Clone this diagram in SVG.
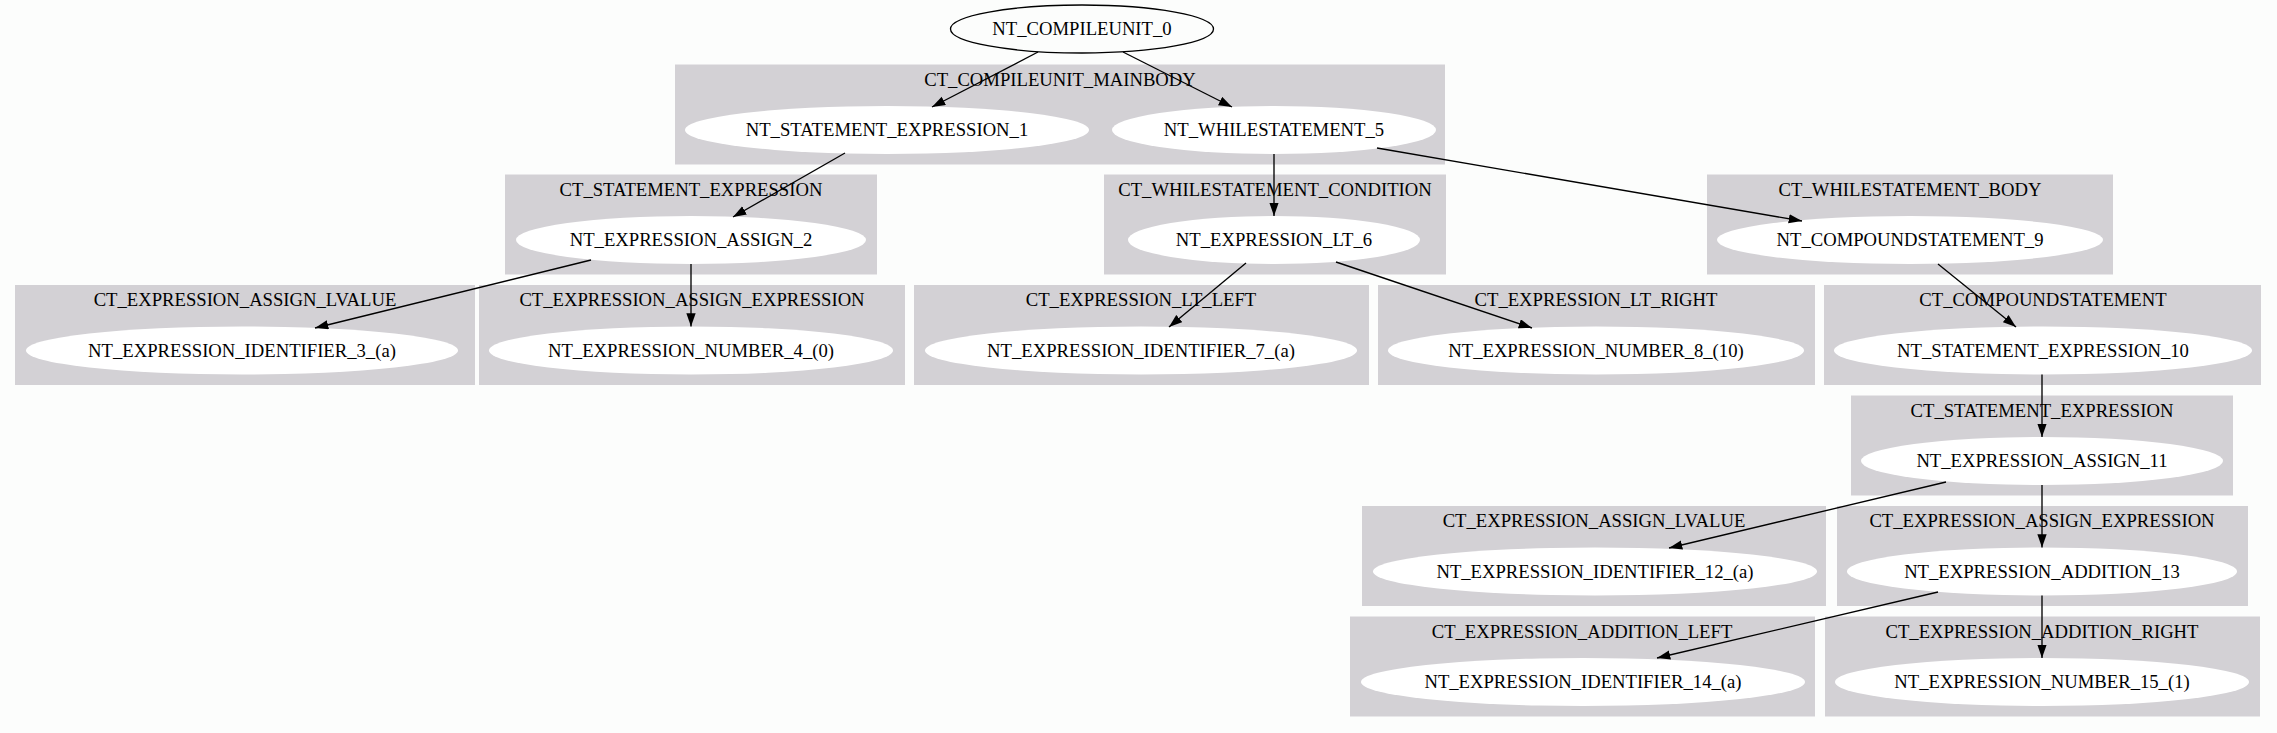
<svg xmlns="http://www.w3.org/2000/svg" width="2277" height="733" viewBox="0 0 2277 733">
<defs>
<marker id="arr" markerUnits="userSpaceOnUse" markerWidth="14" markerHeight="10" refX="13.3" refY="4.67" orient="auto">
<path d="M0,0 L13.3,4.67 L0,9.33 Z" fill="#000"/>
</marker>
</defs>
<style>
text{font-family:"Liberation Serif","Times New Roman",serif;font-size:18.67px;fill:#000;text-anchor:middle}
.cl{fill:#d3d1d5;stroke:none}
.nd{fill:#ffffff;stroke:none}
.root{fill:none;stroke:#000;stroke-width:1.33}
.e{stroke:#000;stroke-width:1.33;fill:none;marker-end:url(#arr)}
</style>
<rect width="2277" height="733" fill="#fcfdfc"/>
<g id="clusters">
<g id="c_mainbody"><rect class="cl" x="675" y="64.5" width="770" height="100"/><text x="1060" y="85.5">CT_COMPILEUNIT_MAINBODY</text></g>
<g id="c_stmt_expr_1"><rect class="cl" x="505" y="174.5" width="372" height="100"/><text x="691" y="195.5">CT_STATEMENT_EXPRESSION</text></g>
<g id="c_while_cond"><rect class="cl" x="1104" y="174.5" width="342" height="100"/><text x="1275" y="195.5">CT_WHILESTATEMENT_CONDITION</text></g>
<g id="c_while_body"><rect class="cl" x="1707" y="174.5" width="406" height="100"/><text x="1910" y="195.5">CT_WHILESTATEMENT_BODY</text></g>
<g id="c_assign_lvalue_1"><rect class="cl" x="15" y="285" width="460" height="100"/><text x="245" y="306">CT_EXPRESSION_ASSIGN_LVALUE</text></g>
<g id="c_assign_expr_1"><rect class="cl" x="479" y="285" width="426" height="100"/><text x="692" y="306">CT_EXPRESSION_ASSIGN_EXPRESSION</text></g>
<g id="c_lt_left"><rect class="cl" x="914" y="285" width="455" height="100"/><text x="1141" y="306">CT_EXPRESSION_LT_LEFT</text></g>
<g id="c_lt_right"><rect class="cl" x="1378" y="285" width="437" height="100"/><text x="1596" y="306">CT_EXPRESSION_LT_RIGHT</text></g>
<g id="c_compound"><rect class="cl" x="1824" y="285" width="437" height="100"/><text x="2043" y="306">CT_COMPOUNDSTATEMENT</text></g>
<g id="c_stmt_expr_2"><rect class="cl" x="1851" y="395.5" width="382" height="100"/><text x="2042" y="416.5">CT_STATEMENT_EXPRESSION</text></g>
<g id="c_assign_lvalue_2"><rect class="cl" x="1362" y="506" width="464" height="100"/><text x="1594" y="527">CT_EXPRESSION_ASSIGN_LVALUE</text></g>
<g id="c_assign_expr_2"><rect class="cl" x="1837" y="506" width="411" height="100"/><text x="2042" y="527">CT_EXPRESSION_ASSIGN_EXPRESSION</text></g>
<g id="c_add_left"><rect class="cl" x="1350" y="616.5" width="465" height="100"/><text x="1582" y="637.5">CT_EXPRESSION_ADDITION_LEFT</text></g>
<g id="c_add_right"><rect class="cl" x="1825" y="616.5" width="435" height="100"/><text x="2042" y="637.5">CT_EXPRESSION_ADDITION_RIGHT</text></g>
</g>
<g id="n0"><ellipse class="root" cx="1082" cy="29" rx="131.5" ry="24"/><text x="1082" y="35">NT_COMPILEUNIT_0</text></g>
<g id="n1"><ellipse class="nd" cx="887" cy="130" rx="202" ry="24"/><text x="887" y="136">NT_STATEMENT_EXPRESSION_1</text></g>
<g id="n5"><ellipse class="nd" cx="1274" cy="130" rx="162" ry="24"/><text x="1274" y="136">NT_WHILESTATEMENT_5</text></g>
<g id="n2"><ellipse class="nd" cx="691" cy="240" rx="175" ry="24"/><text x="691" y="246">NT_EXPRESSION_ASSIGN_2</text></g>
<g id="n6"><ellipse class="nd" cx="1274" cy="240" rx="146" ry="24"/><text x="1274" y="246">NT_EXPRESSION_LT_6</text></g>
<g id="n9"><ellipse class="nd" cx="1910" cy="240" rx="193" ry="24"/><text x="1910" y="246">NT_COMPOUNDSTATEMENT_9</text></g>
<g id="n3"><ellipse class="nd" cx="242" cy="350.5" rx="216" ry="24"/><text x="242" y="356.5">NT_EXPRESSION_IDENTIFIER_3_(a)</text></g>
<g id="n4"><ellipse class="nd" cx="691" cy="350.5" rx="202" ry="24"/><text x="691" y="356.5">NT_EXPRESSION_NUMBER_4_(0)</text></g>
<g id="n7"><ellipse class="nd" cx="1141" cy="350.5" rx="216" ry="24"/><text x="1141" y="356.5">NT_EXPRESSION_IDENTIFIER_7_(a)</text></g>
<g id="n8"><ellipse class="nd" cx="1596" cy="350.5" rx="208" ry="24"/><text x="1596" y="356.5">NT_EXPRESSION_NUMBER_8_(10)</text></g>
<g id="n10"><ellipse class="nd" cx="2043" cy="350.5" rx="209" ry="24"/><text x="2043" y="356.5">NT_STATEMENT_EXPRESSION_10</text></g>
<g id="n11"><ellipse class="nd" cx="2042" cy="461" rx="181" ry="24"/><text x="2042" y="467">NT_EXPRESSION_ASSIGN_11</text></g>
<g id="n12"><ellipse class="nd" cx="1595" cy="571.5" rx="222" ry="24"/><text x="1595" y="577.5">NT_EXPRESSION_IDENTIFIER_12_(a)</text></g>
<g id="n13"><ellipse class="nd" cx="2042" cy="571.5" rx="195" ry="24"/><text x="2042" y="577.5">NT_EXPRESSION_ADDITION_13</text></g>
<g id="n14"><ellipse class="nd" cx="1583" cy="682" rx="222" ry="24"/><text x="1583" y="688">NT_EXPRESSION_IDENTIFIER_14_(a)</text></g>
<g id="n15"><ellipse class="nd" cx="2042" cy="682" rx="207" ry="24"/><text x="2042" y="688">NT_EXPRESSION_NUMBER_15_(1)</text></g>
<g id="edges">
<path class="e" d="M1038,52 L932,107"/>
<path class="e" d="M1123,52 L1232,107"/>
<path class="e" d="M845,153 L733,217"/>
<path class="e" d="M1274,154 L1274,216"/>
<path class="e" d="M1377,148 L1802,221"/>
<path class="e" d="M591,260 L315,328"/>
<path class="e" d="M691,264 L691,326.5"/>
<path class="e" d="M1246,263 L1169,327"/>
<path class="e" d="M1336,262 L1532,328"/>
<path class="e" d="M1938,264 L2016,327"/>
<path class="e" d="M2042,374.5 L2042,437"/>
<path class="e" d="M1946,482 L1669,548"/>
<path class="e" d="M2042,485 L2042,547.5"/>
<path class="e" d="M1938,592 L1657,658"/>
<path class="e" d="M2042,595.5 L2042,658"/>
</g>
</svg>
